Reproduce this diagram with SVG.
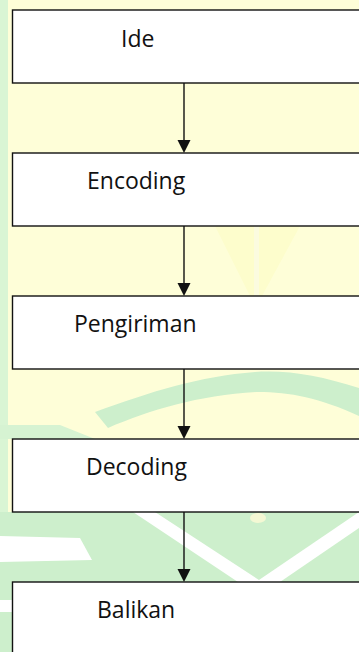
<svg xmlns="http://www.w3.org/2000/svg" width="359" height="652" viewBox="0 0 359 652">
  <style>
    .box { fill: #ffffff; stroke: #111111; stroke-width: 1.4; }
    .label { font-family: "Open Sans", "Noto Sans", sans-serif; font-size: 23px; fill: #111111; }
    .wire { stroke: #111111; stroke-width: 1.4; fill: none; }
    .head { fill: #111111; }
    .green { fill: #cdefcc; }
    .white { fill: #ffffff; }
  </style>

  <!-- paper background with faint emblem -->
  <g id="background">
    <rect x="0" y="0" width="359" height="652" fill="#fefed8"/>
    <rect x="0" y="0" width="8" height="652" fill="#d9f5d4"/>
    <!-- faint lighter shapes in the upper part -->
    <path d="M215 226 L300 226 L262 296 L250 296 Z" fill="#fdfdcc"/>
    <rect x="254" y="226" width="5" height="70" fill="#fbfbdf"/>
    <!-- curved band -->
    <path d="M95 412 C150 392 200 376 255 372 C290 370 320 376 359 388 L359 416 C320 398 290 392 258 392 C200 395 150 410 108 428 Z" class="green"/>
    <path d="M0 425 L60 425 L95 439 L0 439 Z" fill="#d6f3d2"/>
    <!-- lower green field with V stripes -->
    <rect x="0" y="512" width="359" height="70" class="green"/>
    <path d="M133 512 L155 512 L262 582 L238 582 Z" class="white"/>
    <path d="M359 512 L359 528 L280 582 L256 582 Z" class="white"/>
    <path d="M0 536 L80 538 L92 560 L0 562 Z" class="white"/>
    <ellipse cx="258" cy="518" rx="8" ry="5" fill="#f4f8d4"/>
    <rect x="0" y="582" width="12" height="70" class="green"/>
    <rect x="0" y="600" width="12" height="12" class="white"/>
  </g>

  <!-- connectors -->
  <g id="connectors">
    <line x1="184" y1="83" x2="184" y2="141" class="wire"/>
    <polygon points="177.5,140 190.5,140 184,153" class="head"/>
    <line x1="184" y1="226" x2="184" y2="284" class="wire"/>
    <polygon points="177.5,283 190.5,283 184,296" class="head"/>
    <line x1="184" y1="369" x2="184" y2="427" class="wire"/>
    <polygon points="177.5,426 190.5,426 184,439" class="head"/>
    <line x1="184" y1="512" x2="184" y2="570" class="wire"/>
    <polygon points="177.5,569 190.5,569 184,582" class="head"/>
  </g>

  <!-- process steps -->
  <g id="ide">
    <rect x="12.5" y="10" width="370" height="73" class="box"/>
    <text x="121" y="46.5" class="label">Ide</text>
  </g>
  <g id="encoding">
    <rect x="12.5" y="153" width="370" height="73" class="box"/>
    <text x="87" y="188.5" class="label">Encoding</text>
  </g>
  <g id="pengiriman">
    <rect x="12.5" y="296" width="370" height="73" class="box"/>
    <text x="74" y="331.5" class="label">Pengiriman</text>
  </g>
  <g id="decoding">
    <rect x="12.5" y="439" width="370" height="73" class="box"/>
    <text x="86" y="475" class="label">Decoding</text>
  </g>
  <g id="balikan">
    <rect x="12.5" y="582" width="370" height="80" class="box"/>
    <text x="97" y="617.5" class="label">Balikan</text>
  </g>
</svg>
